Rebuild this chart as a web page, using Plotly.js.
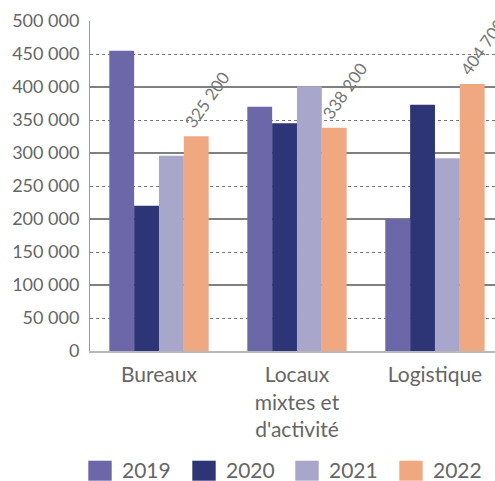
<!DOCTYPE html>
<html><head><meta charset="utf-8">
<script src="https://cdn.plot.ly/plotly-3.0.1.min.js"></script>
<style>html,body{margin:0;padding:0;background:#fff}#c{width:495px;height:481px}</style>
</head><body><div id="c"></div>
<script>
const categories = ["Bureaux", "Locaux<br>mixtes et<br>d'activité", "Logistique"];
const years = ["2019", "2020", "2021", "2022"];
const v2019 = [455000, 370000, 200000];
const v2020 = [220000, 345000, 373000];
const v2021 = [296000, 401000, 292000];
const v2022 = [325200, 338200, 404700];
const colors = ["#6c67a8", "#2d3577", "#a8a6cb", "#f0a880"];
const series = [v2019, v2020, v2021, v2022];
const yTicks = [0,50000,100000,150000,200000,250000,300000,350000,400000,450000,500000];
const ySolid = [100000,200000,300000,400000,500000];

// plot area in pixels
const L = 90, R = 495, T = 21, B = 351;
const px = x => (x - L) / (R - L);
const py = y => (B - y) / (B - T);

const traces = series.map((vals, i) => ({
  type: 'bar', name: years[i], x: categories, y: vals,
  marker: {color: colors[i]},
  hoverinfo: 'none'
}));
traces.push({type:'scatter', x:[categories[0]], y:[0], yaxis:'y2', showlegend:false, mode:'none', hoverinfo:'none'});

const fmt = v => String(v).replace(/\B(?=(\d{3})+(?!\d))/g, ' ');

const annotations = v2022.map((v, i) => ({
  x: i + 0.27, y: v, xref: 'x', yref: 'y',
  text: fmt(v),
  showarrow: false, textangle: -55, xanchor: 'left', yanchor: 'bottom',
  xshift: -19, yshift: 2,
  font: {family: 'Lato', size: 17, color: '#777'}
}));

// custom legend with large square keys
const legX = [88.3, 192.3, 295.3, 399.3];
const shapes = [];
years.forEach((yr, i) => {
  shapes.push({type: 'rect', xref: 'paper', yref: 'paper',
    x0: px(legX[i]), x1: px(legX[i] + 23.4), y0: py(480.7), y1: py(460.7),
    fillcolor: colors[i], line: {width: 0}});
  annotations.push({xref: 'paper', yref: 'paper', x: px(legX[i] + 33), y: py(469.5),
    xanchor: 'left', yanchor: 'middle', text: yr, showarrow: false, borderpad: 0,
    font: {family: 'Lato', size: 21, color: '#666'}});
});

const layout = {
  width: 495, height: 481,
  margin: {l: L, r: 495 - R, t: T, b: 481 - B},
  paper_bgcolor: '#fff', plot_bgcolor: '#fff',
  barmode: 'group', bargap: 0.28, bargroupgap: 0,
  separators: ', ',
  font: {family: 'Lato', color: '#666'},
  xaxis: {
    range: [-0.5, 2.435], showgrid: false, showline: true, linecolor: '#b8b8b8', linewidth: 2,
    ticks: '', ticklabelstandoff: 4,
    tickfont: {family: 'Lato', size: 21, color: '#666'}, automargin: false
  },
  yaxis: {
    range: [0, 500000], tickvals: yTicks, tickformat: ',d',
    showgrid: true, gridcolor: '#777', griddash: 'dot', gridwidth: 1,
    showline: true, linecolor: '#999', linewidth: 1, zeroline: false,
    ticks: '', ticklabelstandoff: 6,
    tickfont: {family: 'Lato', size: 18, color: '#666'}, automargin: false
  },
  yaxis2: {
    overlaying: 'y', range: [0, 500000], tickvals: ySolid, showticklabels: false,
    showgrid: true, gridcolor: '#808080', gridwidth: 1.3, zeroline: false, showline: false
  },
  annotations: annotations,
  shapes: shapes,
  showlegend: false
};
Plotly.newPlot('c', traces, layout, {displayModeBar: false, staticPlot: true});
</script></body></html>
